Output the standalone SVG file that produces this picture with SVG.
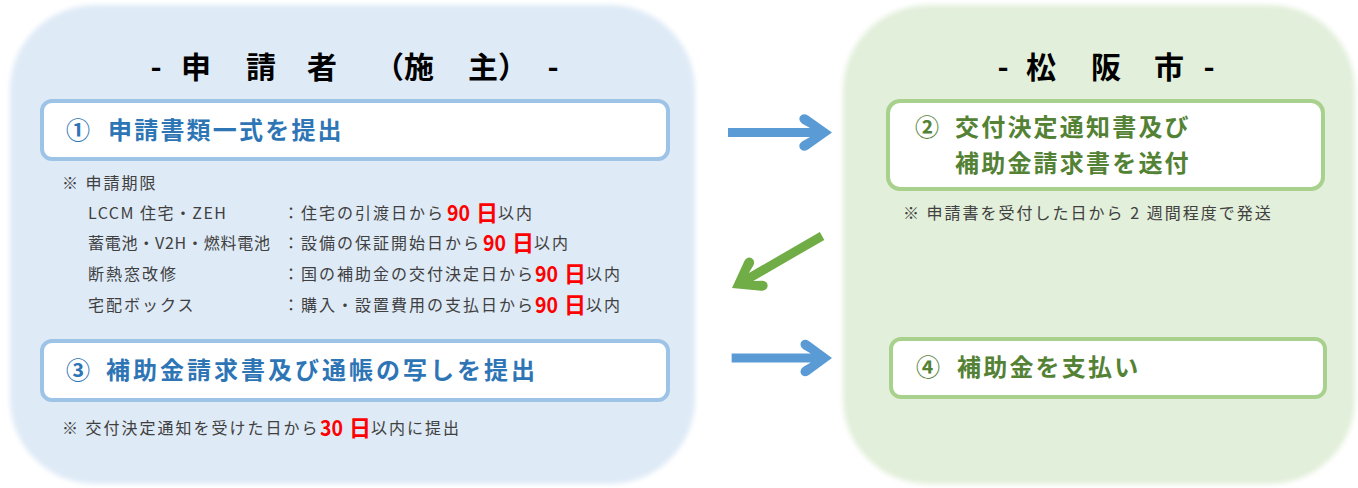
<svg xmlns="http://www.w3.org/2000/svg" width="1358" height="488" viewBox="0 0 1358 488">
<style>
text{font-family:"Noto Sans CJK JP","Noto Sans",sans-serif;}
.title{font-size:30px;font-weight:700;fill:#000;text-anchor:middle;}
.titleL{font-size:30px;font-weight:700;fill:#000;}
.bt{font-size:24px;font-weight:700;fill:#2e75b6;letter-spacing:2.2px;}
.gt{font-size:24px;font-weight:700;fill:#548235;letter-spacing:2.2px;}
.note{font-size:16px;fill:#404040;letter-spacing:2px;}
.red{font-size:22px;font-weight:700;fill:#ff0000;}
.bbox{fill:#fff;stroke:#9dc3e6;stroke-width:4;}
.gbox{fill:#fff;stroke:#a9d18e;stroke-width:4;}
</style>
<defs>
<filter id="soft" x="-5%" y="-5%" width="110%" height="110%"><feGaussianBlur stdDeviation="2.5"/></filter>
<path id="arr" d="M0,0 L-24,-17 Q-29,-20 -32,-16 Q-34,-12 -30,-9 L-22,-4.5 L-104,-4.5 L-104,4.5 L-22,4.5 L-30,9 Q-34,12 -32,16 Q-29,20 -24,17 Z"/>
</defs>
<rect width="1358" height="488" fill="#fff"/>

<g id="panel-applicant">
<rect x="10" y="5" width="685" height="479" rx="85" fill="#deeaf6" filter="url(#soft)"/>
<text class="title" x="156" y="78">-</text>
<text class="title" x="196" y="78">申</text>
<text class="title" x="261" y="78">請</text>
<text class="title" x="322" y="78">者</text>
<text class="titleL" x="374" y="78">（施</text>
<text class="titleL" x="468" y="78">主）</text>
<text class="title" x="553" y="78">-</text>
</g>

<g id="panel-city">
<rect x="843" y="5" width="512" height="479" rx="85" fill="#e2efda" filter="url(#soft)"/>
<text class="title" x="1003" y="78">-</text>
<text class="title" x="1041" y="78">松</text>
<text class="title" x="1106" y="78">阪</text>
<text class="title" x="1169" y="78">市</text>
<text class="title" x="1209" y="78">-</text>
</g>

<g id="step1">
<rect class="bbox" x="42" y="101" width="626" height="58" rx="10"/>
<text class="bt" x="66" y="139">①</text>
<text class="bt" x="108" y="139">申請書類一式を提出</text>
</g>

<g id="step1-note">
<text class="note" x="62" y="189">※ 申請期限</text>
<text class="note" x="88" y="219" textLength="140" lengthAdjust="spacing">LCCM 住宅・ZEH</text>
<text class="note" x="283" y="219">：住宅の引渡日から</text>
<text class="red" x="447" y="221" textLength="23" lengthAdjust="spacingAndGlyphs">90</text>
<text class="red" x="476" y="221">日</text>
<text class="note" x="498" y="219">以内</text>
<text class="note" x="88" y="249" textLength="184" lengthAdjust="spacing">蓄電池・V2H・燃料電池</text>
<text class="note" x="283" y="249">：設備の保証開始日から</text>
<text class="red" x="483" y="251" textLength="23" lengthAdjust="spacingAndGlyphs">90</text>
<text class="red" x="512" y="251">日</text>
<text class="note" x="534" y="249">以内</text>
<text class="note" x="88" y="280">断熱窓改修</text>
<text class="note" x="283" y="280">：国の補助金の交付決定日から</text>
<text class="red" x="535" y="282" textLength="23" lengthAdjust="spacingAndGlyphs">90</text>
<text class="red" x="564" y="282">日</text>
<text class="note" x="586" y="280">以内</text>
<text class="note" x="88" y="311">宅配ボックス</text>
<text class="note" x="283" y="311">：購入・設置費用の支払日から</text>
<text class="red" x="535" y="313" textLength="23" lengthAdjust="spacingAndGlyphs">90</text>
<text class="red" x="564" y="313">日</text>
<text class="note" x="586" y="311">以内</text>
</g>

<g id="step3">
<rect class="bbox" x="42" y="341" width="626" height="59" rx="10"/>
<text class="bt" x="66" y="379">③</text>
<text class="bt" x="106" y="379" style="letter-spacing:3px">補助金請求書及び通帳の写しを提出</text>
</g>

<g id="step3-note">
<text class="note" x="62" y="434">※ 交付決定通知を受けた日から</text>
<text class="red" x="320" y="436" textLength="23" lengthAdjust="spacingAndGlyphs">30</text>
<text class="red" x="349" y="436">日</text>
<text class="note" x="371" y="434">以内に提出</text>
</g>

<g id="step2">
<rect class="gbox" x="888" y="101" width="435" height="88" rx="12"/>
<text class="gt" x="915" y="136">②</text>
<text class="gt" x="955" y="136">交付決定通知書及び</text>
<text class="gt" x="955" y="172">補助金請求書を送付</text>
</g>

<g id="step2-note">
<text class="note" x="903" y="219">※ 申請書を受付した日から 2 週間程度で発送</text>
</g>

<g id="step4">
<rect class="gbox" x="891" y="339" width="434" height="58" rx="10"/>
<text class="gt" x="916" y="376">④</text>
<text class="gt" x="957" y="376">補助金を支払い</text>
</g>

<g id="connectors">
<use href="#arr" fill="#5b9bd5" transform="translate(832,132.5)"/>
<use href="#arr" fill="#70ad47" transform="translate(732,288) rotate(150)"/>
<use href="#arr" fill="#5b9bd5" transform="translate(832,358) scale(0.965,1)"/>
</g>
</svg>
